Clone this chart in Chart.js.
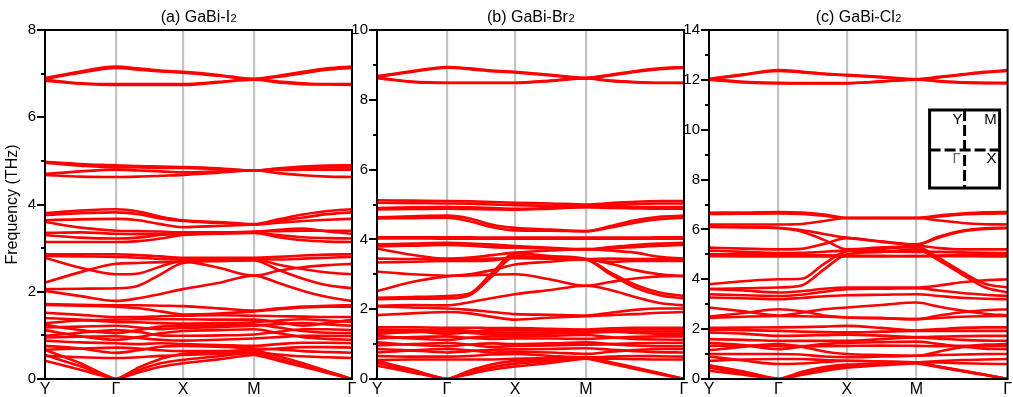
<!DOCTYPE html>
<html>
<head>
<meta charset="utf-8">
<script src="https://cdn.jsdelivr.net/npm/chart.js@4.4.1/dist/chart.umd.min.js"></script>
<style>
  html, body { margin: 0; padding: 0; background: #fff; }
  body { width: 1013px; height: 397px; position: relative; overflow: hidden; }
  canvas { position: absolute; top: 0; }
</style>
</head>
<body>
<canvas id="panelI2" width="360" height="397" style="left:0px"></canvas>
<canvas id="panelBr2" width="352" height="397" style="left:340px"></canvas>
<canvas id="panelCl2" width="343" height="397" style="left:670px"></canvas>
<script>
// High-symmetry path Y–Γ–X–M–Γ and the sampling of each segment
const kLabels = ['Y', 'Γ', 'X', 'M', 'Γ'];
const segmentSamples = [[0, 0.5], [0, 1 / 3, 2 / 3], [0, 0.5], [0, 0.25, 0.5, 0.75, 1]];

// Segment lengths (Y-Γ, Γ-X, X-M, M-Γ) of each compound's path
const pathI2 = [0.71, 0.67, 0.71, 0.98];
const pathBr2 = [0.70, 0.68, 0.71, 0.98];
const pathCl2 = [0.70, 0.69, 0.70, 0.92];

// Frequency axis ranges (THz)
const yMaxI2 = 8, yMaxBr2 = 10, yMaxCl2 = 14;

// Phonon branches, frequencies (THz) at the 12 path samples:
// Y, ½YΓ, Γ, ⅓ΓX, ⅔ΓX, X, ½XM, M, ¼MΓ, ½MΓ, ¾MΓ, Γ

// ---- GaBi-I2 ----
const I2_high = [
  [6.90, 7.05, 7.16, 7.12, 7.07, 7.04, 6.97, 6.88, 6.95, 7.04, 7.12, 7.16],
  [6.88, 7.02, 7.13, 7.09, 7.05, 7.02, 6.95, 6.87, 6.93, 7.01, 7.09, 7.13],
  [6.86, 6.78, 6.76, 6.76, 6.76, 6.76, 6.81, 6.87, 6.82, 6.78, 6.76, 6.76],
  [6.84, 6.77, 6.74, 6.74, 6.74, 6.74, 6.80, 6.86, 6.80, 6.76, 6.75, 6.74],
  [4.98, 4.93, 4.90, 4.88, 4.87, 4.86, 4.83, 4.78, 4.83, 4.87, 4.89, 4.90],
  [4.96, 4.89, 4.85, 4.85, 4.84, 4.84, 4.81, 4.78, 4.81, 4.84, 4.85, 4.85],
  [4.70, 4.76, 4.80, 4.78, 4.76, 4.74, 4.76, 4.78, 4.79, 4.80, 4.80, 4.80],
  [4.68, 4.64, 4.63, 4.64, 4.66, 4.68, 4.73, 4.78, 4.72, 4.67, 4.64, 4.63]
];
const I2_mid = [
  [3.80, 3.86, 3.89, 3.84, 3.72, 3.64, 3.60, 3.55, 3.66, 3.77, 3.85, 3.89],
  [3.76, 3.80, 3.82, 3.78, 3.68, 3.62, 3.58, 3.54, 3.62, 3.70, 3.78, 3.82],
  [3.64, 3.66, 3.67, 3.64, 3.55, 3.48, 3.51, 3.54, 3.58, 3.62, 3.65, 3.67],
  [3.60, 3.47, 3.40, 3.39, 3.38, 3.36, 3.36, 3.38, 3.39, 3.40, 3.40, 3.40],
  [3.35, 3.36, 3.33, 3.32, 3.32, 3.33, 3.35, 3.37, 3.42, 3.45, 3.38, 3.33],
  [3.30, 3.24, 3.22, 3.24, 3.30, 3.32, 3.34, 3.36, 3.30, 3.25, 3.23, 3.22],
  [3.14, 3.14, 3.14, 3.16, 3.22, 3.30, 3.33, 3.35, 3.25, 3.18, 3.15, 3.14],
  [2.86, 2.86, 2.86, 2.84, 2.81, 2.78, 2.78, 2.78, 2.80, 2.83, 2.85, 2.86],
  [2.82, 2.81, 2.80, 2.78, 2.75, 2.74, 2.74, 2.75, 2.74, 2.76, 2.78, 2.80],
  [2.78, 2.55, 2.40, 2.42, 2.58, 2.71, 2.73, 2.75, 2.62, 2.52, 2.44, 2.40],
  [2.21, 2.45, 2.64, 2.66, 2.68, 2.69, 2.55, 2.37, 2.48, 2.56, 2.61, 2.64],
  [2.06, 2.07, 2.08, 2.14, 2.40, 2.66, 2.70, 2.72, 2.50, 2.30, 2.15, 2.08],
  [2.02, 1.90, 1.79, 1.85, 1.95, 2.06, 2.20, 2.37, 2.20, 2.02, 1.88, 1.79]
];
const I2_low = [
  [1.72, 1.70, 1.69, 1.69, 1.68, 1.67, 1.62, 1.57, 1.62, 1.66, 1.68, 1.69],
  [1.70, 1.68, 1.66, 1.62, 1.55, 1.48, 1.50, 1.55, 1.60, 1.64, 1.66, 1.66],
  [1.52, 1.47, 1.42, 1.42, 1.44, 1.45, 1.46, 1.45, 1.44, 1.43, 1.42, 1.42],
  [1.28, 1.34, 1.36, 1.37, 1.37, 1.37, 1.36, 1.36, 1.30, 1.22, 1.28, 1.36],
  [1.40, 1.36, 1.31, 1.30, 1.28, 1.27, 1.28, 1.30, 1.34, 1.37, 1.34, 1.31],
  [1.24, 1.12, 1.05, 1.12, 1.20, 1.22, 1.23, 1.25, 1.18, 1.10, 1.06, 1.05],
  [1.18, 1.20, 1.22, 1.18, 1.14, 1.17, 1.19, 1.22, 1.26, 1.28, 1.25, 1.22],
  [1.12, 0.98, 0.90, 0.96, 1.05, 1.10, 1.12, 1.14, 1.05, 0.96, 0.92, 0.90],
  [0.99, 1.06, 1.12, 1.08, 1.00, 0.99, 1.00, 1.02, 1.08, 1.14, 1.14, 1.12],
  [0.95, 0.97, 0.98, 0.94, 0.90, 0.88, 0.90, 0.93, 0.96, 0.99, 0.99, 0.98],
  [0.88, 0.84, 0.82, 0.80, 0.82, 0.80, 0.78, 0.76, 0.80, 0.83, 0.83, 0.82],
  [0.76, 0.70, 0.60, 0.66, 0.74, 0.76, 0.74, 0.70, 0.68, 0.64, 0.62, 0.60],
  [0.67, 0.70, 0.72, 0.70, 0.66, 0.64, 0.64, 0.66, 0.70, 0.73, 0.73, 0.72],
  [0.53, 0.50, 0.48, 0.50, 0.53, 0.55, 0.58, 0.60, 0.56, 0.52, 0.50, 0.48]
];
const I2_acoustic = [
  [0.42, 0.21, 0.00, 0.15, 0.28, 0.36, 0.45, 0.55, 0.42, 0.28, 0.14, 0.00],
  [0.55, 0.29, 0.00, 0.20, 0.36, 0.44, 0.52, 0.60, 0.46, 0.31, 0.16, 0.00],
  [0.67, 0.36, 0.00, 0.26, 0.46, 0.58, 0.62, 0.66, 0.52, 0.36, 0.18, 0.00]
];

// ---- GaBi-Br2 ----
const Br2_high = [
  [8.68, 8.82, 8.94, 8.90, 8.84, 8.80, 8.72, 8.63, 8.72, 8.82, 8.90, 8.94],
  [8.66, 8.80, 8.92, 8.88, 8.82, 8.78, 8.70, 8.62, 8.70, 8.80, 8.88, 8.92],
  [8.64, 8.52, 8.49, 8.49, 8.49, 8.49, 8.55, 8.62, 8.55, 8.51, 8.49, 8.49],
  [8.62, 8.51, 8.48, 8.48, 8.48, 8.48, 8.54, 8.61, 8.54, 8.50, 8.48, 8.48],
  [5.12, 5.11, 5.10, 5.09, 5.07, 5.05, 5.03, 5.00, 5.04, 5.08, 5.10, 5.10],
  [5.05, 5.04, 5.03, 5.02, 5.00, 4.98, 4.96, 4.95, 4.98, 5.01, 5.03, 5.03],
  [4.90, 4.92, 4.93, 4.92, 4.90, 4.88, 4.90, 4.93, 4.92, 4.92, 4.93, 4.93],
  [4.86, 4.87, 4.88, 4.87, 4.86, 4.85, 4.88, 4.92, 4.90, 4.89, 4.88, 4.88],
  [4.63, 4.66, 4.68, 4.60, 4.42, 4.33, 4.28, 4.24, 4.38, 4.55, 4.65, 4.68],
  [4.60, 4.61, 4.62, 4.52, 4.35, 4.26, 4.25, 4.23, 4.34, 4.48, 4.58, 4.62]
];
const Br2_mid = [
  [4.06, 4.06, 4.06, 4.06, 4.05, 4.05, 4.05, 4.05, 4.05, 4.05, 4.06, 4.06],
  [4.03, 4.03, 4.02, 4.02, 4.02, 4.02, 4.02, 4.02, 4.02, 4.02, 4.02, 4.02],
  [3.86, 3.88, 3.90, 3.88, 3.85, 3.81, 3.76, 3.72, 3.78, 3.84, 3.88, 3.90],
  [3.80, 3.82, 3.84, 3.82, 3.78, 3.76, 3.74, 3.71, 3.74, 3.78, 3.82, 3.84],
  [3.74, 3.56, 3.45, 3.48, 3.55, 3.62, 3.68, 3.72, 3.68, 3.62, 3.50, 3.45],
  [3.45, 3.44, 3.44, 3.44, 3.45, 3.46, 3.45, 3.44, 3.45, 3.44, 3.44, 3.44],
  [3.34, 3.36, 3.38, 3.38, 3.40, 3.48, 3.45, 3.42, 3.36, 3.38, 3.38, 3.38],
  [3.08, 3.00, 2.96, 2.97, 2.99, 3.00, 2.85, 2.67, 2.78, 2.88, 2.94, 2.96],
  [2.52, 2.78, 2.94, 3.00, 3.12, 3.28, 3.36, 3.43, 3.30, 3.12, 3.00, 2.94],
  [2.33, 2.35, 2.38, 2.45, 3.05, 3.60, 3.52, 3.44, 3.05, 2.70, 2.48, 2.38],
  [2.29, 2.30, 2.31, 2.40, 2.95, 3.52, 3.48, 3.42, 3.00, 2.62, 2.40, 2.31],
  [2.10, 2.12, 2.11, 2.20, 2.32, 2.43, 2.55, 2.67, 2.55, 2.35, 2.18, 2.11],
  [2.08, 2.05, 2.02, 1.98, 1.92, 1.86, 1.84, 1.82, 1.90, 1.98, 2.02, 2.02],
  [1.83, 1.88, 1.92, 1.88, 1.78, 1.70, 1.76, 1.80, 1.83, 1.86, 1.90, 1.92]
];
const Br2_low = [
  [1.48, 1.48, 1.47, 1.47, 1.46, 1.46, 1.44, 1.42, 1.45, 1.47, 1.47, 1.47],
  [1.42, 1.38, 1.30, 1.34, 1.40, 1.40, 1.40, 1.40, 1.36, 1.32, 1.30, 1.30],
  [1.36, 1.40, 1.42, 1.38, 1.34, 1.33, 1.34, 1.36, 1.40, 1.42, 1.42, 1.42],
  [1.30, 1.34, 1.36, 1.32, 1.28, 1.28, 1.30, 1.33, 1.35, 1.36, 1.36, 1.36],
  [1.24, 1.16, 1.12, 1.18, 1.22, 1.22, 1.24, 1.26, 1.20, 1.15, 1.13, 1.12],
  [1.16, 1.20, 1.22, 1.18, 1.15, 1.16, 1.16, 1.15, 1.18, 1.21, 1.22, 1.22],
  [1.05, 0.98, 0.94, 0.99, 1.02, 1.00, 1.02, 1.05, 1.00, 0.96, 0.94, 0.94],
  [0.96, 1.00, 1.03, 0.98, 0.92, 0.95, 0.96, 0.98, 1.00, 1.02, 1.03, 1.03],
  [0.86, 0.82, 0.76, 0.80, 0.84, 0.85, 0.86, 0.88, 0.84, 0.80, 0.77, 0.76],
  [0.76, 0.82, 0.86, 0.82, 0.76, 0.78, 0.76, 0.72, 0.78, 0.83, 0.86, 0.86],
  [0.66, 0.64, 0.64, 0.66, 0.70, 0.72, 0.66, 0.62, 0.64, 0.66, 0.65, 0.64],
  [0.54, 0.56, 0.56, 0.56, 0.56, 0.58, 0.60, 0.60, 0.58, 0.57, 0.56, 0.56]
];
const Br2_acoustic = [
  [0.38, 0.19, 0.00, 0.14, 0.27, 0.36, 0.46, 0.58, 0.44, 0.29, 0.14, 0.00],
  [0.46, 0.23, 0.00, 0.19, 0.34, 0.44, 0.52, 0.60, 0.46, 0.31, 0.16, 0.00],
  [0.52, 0.27, 0.00, 0.24, 0.42, 0.52, 0.56, 0.62, 0.48, 0.33, 0.17, 0.00]
];

// ---- GaBi-Cl2 ----
const Cl2_high = [
  [12.04, 12.22, 12.39, 12.33, 12.25, 12.20, 12.12, 12.03, 12.12, 12.22, 12.32, 12.39],
  [12.02, 12.20, 12.36, 12.30, 12.23, 12.18, 12.10, 12.02, 12.10, 12.20, 12.30, 12.36],
  [12.03, 11.92, 11.88, 11.87, 11.87, 11.87, 11.94, 12.02, 11.95, 11.90, 11.88, 11.88],
  [12.01, 11.90, 11.86, 11.86, 11.86, 11.86, 11.93, 12.01, 11.94, 11.89, 11.87, 11.86]
];
const Cl2_mid = [
  [6.67, 6.68, 6.70, 6.68, 6.60, 6.47, 6.47, 6.47, 6.56, 6.64, 6.69, 6.70],
  [6.62, 6.63, 6.64, 6.62, 6.55, 6.45, 6.45, 6.45, 6.52, 6.60, 6.63, 6.64],
  [6.20, 6.20, 6.20, 6.22, 6.34, 6.46, 6.46, 6.46, 6.36, 6.26, 6.21, 6.20],
  [6.13, 6.10, 6.07, 5.98, 5.82, 5.67, 5.52, 5.40, 5.72, 5.95, 6.05, 6.07],
  [6.10, 6.08, 6.05, 5.92, 5.58, 5.20, 5.28, 5.36, 5.68, 5.92, 6.02, 6.05],
  [5.27, 5.23, 5.20, 5.22, 5.42, 5.65, 5.50, 5.36, 5.25, 5.20, 5.20, 5.20],
  [5.15, 5.10, 5.05, 5.06, 5.10, 5.15, 5.12, 5.10, 5.10, 5.08, 5.06, 5.05],
  [5.00, 5.00, 5.00, 4.98, 4.96, 4.95, 4.94, 4.93, 4.95, 4.98, 5.00, 5.00],
  [4.93, 4.92, 4.92, 4.92, 4.92, 4.92, 4.92, 4.93, 4.93, 4.93, 4.92, 4.92],
  [3.80, 3.92, 4.00, 4.02, 4.62, 5.13, 5.22, 5.30, 4.85, 4.30, 3.82, 3.67],
  [3.60, 3.64, 3.67, 3.75, 4.40, 5.00, 5.10, 5.20, 4.75, 4.20, 3.68, 3.47],
  [3.62, 3.55, 3.47, 3.52, 3.62, 3.67, 3.67, 3.67, 3.75, 3.88, 3.96, 4.00],
  [3.40, 3.36, 3.33, 3.38, 3.50, 3.60, 3.62, 3.64, 3.55, 3.45, 3.38, 3.33],
  [3.27, 3.24, 3.20, 3.25, 3.32, 3.36, 3.38, 3.40, 3.33, 3.26, 3.22, 3.20]
];
const Cl2_low = [
  [2.87, 2.72, 2.55, 2.66, 2.80, 2.87, 2.97, 3.07, 2.90, 2.75, 2.62, 2.55],
  [2.50, 2.65, 2.80, 2.72, 2.55, 2.47, 2.44, 2.40, 2.55, 2.68, 2.76, 2.80],
  [2.45, 2.50, 2.53, 2.52, 2.50, 2.47, 2.44, 2.40, 2.45, 2.50, 2.52, 2.53],
  [2.05, 2.06, 2.07, 2.08, 2.10, 2.13, 2.05, 1.95, 2.00, 2.05, 2.07, 2.07],
  [1.98, 1.96, 1.93, 1.90, 1.88, 1.87, 1.90, 1.93, 1.93, 1.93, 1.93, 1.93],
  [1.87, 1.82, 1.73, 1.74, 1.76, 1.78, 1.74, 1.68, 1.70, 1.72, 1.73, 1.73],
  [1.60, 1.57, 1.53, 1.53, 1.53, 1.53, 1.60, 1.67, 1.62, 1.57, 1.54, 1.53],
  [1.45, 1.36, 1.20, 1.30, 1.40, 1.45, 1.48, 1.50, 1.40, 1.30, 1.22, 1.20],
  [1.33, 1.34, 1.33, 1.32, 1.32, 1.33, 1.34, 1.33, 1.32, 1.33, 1.33, 1.33],
  [1.15, 1.30, 1.40, 1.30, 1.10, 1.00, 0.96, 0.93, 1.10, 1.28, 1.38, 1.40],
  [1.00, 1.00, 1.00, 0.98, 0.90, 0.87, 0.90, 0.93, 0.96, 0.98, 1.00, 1.00],
  [0.73, 0.78, 0.80, 0.80, 0.76, 0.73, 0.70, 0.67, 0.72, 0.76, 0.78, 0.80],
  [0.90, 0.74, 0.60, 0.62, 0.68, 0.73, 0.70, 0.67, 0.66, 0.63, 0.61, 0.60]
];
const Cl2_acoustic = [
  [0.33, 0.17, 0.00, 0.16, 0.32, 0.45, 0.55, 0.62, 0.47, 0.31, 0.16, 0.00],
  [0.45, 0.23, 0.00, 0.22, 0.40, 0.53, 0.60, 0.65, 0.49, 0.33, 0.17, 0.00],
  [0.55, 0.30, 0.00, 0.28, 0.48, 0.58, 0.62, 0.66, 0.50, 0.34, 0.18, 0.00]
];

const FONT = '"Liberation Sans", Arial, Helvetica, sans-serif';
const BAND_COLOR = '#ff0000';

// k-coordinates of the path nodes and of every sample along the path
function pathNodes(lengths) {
  const nodes = [0];
  lengths.forEach(l => nodes.push(+(nodes[nodes.length - 1] + l).toFixed(4)));
  return nodes;
}
function pathSamples(lengths) {
  const nodes = pathNodes(lengths);
  const ks = [];
  segmentSamples.forEach((fr, s) => fr.forEach(f => ks.push(nodes[s] + f * lengths[s])));
  return ks;
}

// Frame, y tick marks, panel caption and optional Brillouin-zone inset
const panelDecor = {
  id: 'panelDecor',
  afterDraw(chart, args, opts) {
    const { ctx, chartArea: a } = chart;
    const y = chart.scales.y;
    ctx.save();
    ctx.strokeStyle = '#000';
    ctx.lineWidth = 2;
    for (let v = y.min; v <= y.max; v += 1) {
      const py = Math.round(y.getPixelForValue(v));
      const len = v % 2 === 0 ? 8 : 4;
      ctx.beginPath();
      ctx.moveTo(a.left - len, py);
      ctx.lineTo(a.left, py);
      ctx.stroke();
    }
    ctx.strokeRect(a.left, a.top, a.right - a.left, a.bottom - a.top);

    // caption with subscript
    const [main, sub] = opts.caption;
    ctx.fillStyle = '#000';
    ctx.textBaseline = 'alphabetic';
    ctx.textAlign = 'left';
    ctx.font = '16px ' + FONT;
    const wMain = ctx.measureText(main).width;
    ctx.font = '11px ' + FONT;
    const wSub = ctx.measureText(sub).width;
    const x0c = (a.left + a.right) / 2 - (wMain + wSub) / 2;
    ctx.font = '16px ' + FONT;
    ctx.fillText(main, x0c, 22);
    ctx.font = '11px ' + FONT;
    ctx.fillText(sub, x0c + wMain + 0.5, 22);

    if (opts.inset) {
      const w = 70, h = 78;
      const x0 = a.right - 78, y0 = a.top + 80;
      ctx.lineWidth = 3;
      ctx.strokeRect(x0, y0, w, h);
      ctx.setLineDash([11, 4]);
      ctx.beginPath();
      ctx.moveTo(x0 + w / 2, y0);
      ctx.lineTo(x0 + w / 2, y0 + h);
      ctx.moveTo(x0, y0 + h / 2 + 1);
      ctx.lineTo(x0 + w, y0 + h / 2 + 1);
      ctx.stroke();
      ctx.setLineDash([]);
      ctx.textAlign = 'center';
      ctx.textBaseline = 'middle';
      ctx.font = '15px ' + FONT;
      ctx.fillText('Y', x0 + 28, y0 + 10);
      ctx.fillText('M', x0 + 61, y0 + 10);
      ctx.fillText('X', x0 + 62, y0 + 49);
      ctx.fillStyle = '#666';
      ctx.fillText('Γ', x0 + 27, y0 + 49);
    }
    ctx.restore();
  }
};

function makePanel(canvasId, groups, lengths, yMax, caption, opts) {
  const ks = pathSamples(lengths);
  const nodes = pathNodes(lengths);
  const datasets = [];
  groups.forEach((group, gi) => group.forEach(band => {
    const acoustic = gi === groups.length - 1;
    datasets.push({
      data: band.map((f, i) => ({ x: ks[i], y: f })),
      borderColor: BAND_COLOR,
      borderWidth: 2.6,
      pointRadius: 0,
      cubicInterpolationMode: acoustic ? 'default' : 'monotone',
      tension: acoustic ? 0.15 : 0,
      fill: false
    });
  }));
  return new Chart(document.getElementById(canvasId), {
    type: 'line',
    data: { datasets },
    options: {
      responsive: false,
      animation: false,
      events: [],
      layout: { padding: { top: 30, right: opts.right, bottom: 0, left: 0 } },
      plugins: {
        legend: { display: false },
        tooltip: { enabled: false },
        panelDecor: { caption, inset: !!opts.inset }
      },
      scales: {
        x: {
          type: 'linear',
          min: 0,
          max: nodes[nodes.length - 1],
          afterBuildTicks: s => { s.ticks = nodes.map(v => ({ value: v })); },
          afterFit: s => { s.height = 17; },
          border: { display: false },
          grid: {
            drawTicks: false,
            lineWidth: 2.2,
            color: c => (c.index > 0 && c.index < nodes.length - 1) ? '#c3c3c3' : 'rgba(0,0,0,0)'
          },
          ticks: {
            autoSkip: false,
            maxRotation: 0,
            padding: 1,
            color: '#000',
            font: { family: FONT, size: 16 },
            callback: (v, i) => kLabels[i]
          }
        },
        y: {
          min: 0,
          max: yMax,
          afterFit: s => { s.width = opts.axisWidth; },
          border: { display: false },
          grid: { display: false, drawTicks: false },
          ticks: {
            stepSize: 2,
            padding: 9,
            color: '#000',
            font: { family: FONT, size: 15 }
          },
          title: {
            display: !!opts.yTitle,
            text: opts.yTitle || '',
            color: '#000',
            font: { family: FONT, size: 16 },
            padding: { top: 3, bottom: 0 }
          }
        }
      }
    },
    plugins: [panelDecor]
  });
}

makePanel('panelI2', [I2_high, I2_mid, I2_low, I2_acoustic], pathI2, yMaxI2,
  ['(a) GaBi-I', '2'], { axisWidth: 45, right: 8, yTitle: 'Frequency (THz)' });
makePanel('panelBr2', [Br2_high, Br2_mid, Br2_low, Br2_acoustic], pathBr2, yMaxBr2,
  ['(b) GaBi-Br', '2'], { axisWidth: 37, right: 8 });
makePanel('panelCl2', [Cl2_high, Cl2_mid, Cl2_low, Cl2_acoustic], pathCl2, yMaxCl2,
  ['(c) GaBi-Cl', '2'], { axisWidth: 39, right: 3, inset: true });
</script>
</body>
</html>
